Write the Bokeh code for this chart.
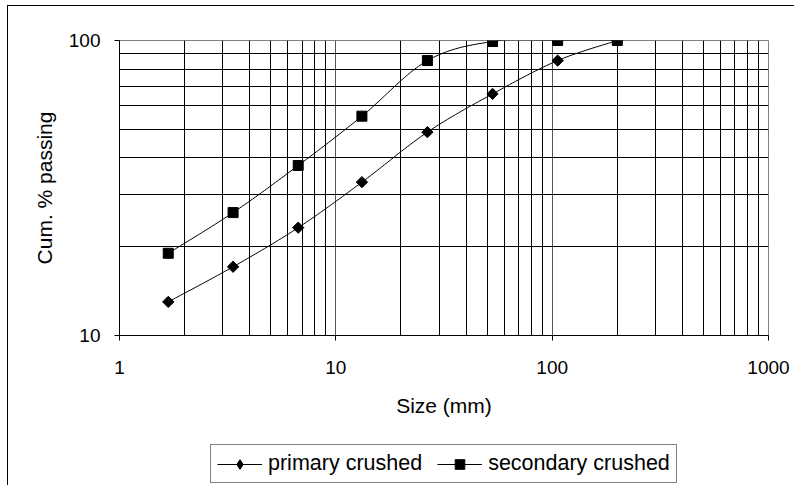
import numpy as np
from bokeh.plotting import figure
from bokeh.models import FixedTicker, Legend, LegendItem, Range1d
from bokeh.layouts import column
from bokeh.embed import file_html
from bokeh.resources import INLINE

# ---- data ----
sizes = [1.68, 3.35, 6.7, 13.2, 26.5, 53, 106, 200]
primary = [13.0, 17.1, 23.2, 33.1, 48.9, 65.9, 85.5, 100.0]
secondary = [19.0, 26.1, 37.7, 55.4, 85.5, 99.2, 100.0, 100.0]
series_names = ["primary crushed", "secondary crushed"]

x_major = [1, 10, 100, 1000]
x_minor = [2, 3, 4, 5, 6, 7, 8, 9, 20, 30, 40, 50, 60, 70, 80, 90, 200, 300, 400, 500, 600, 700, 800, 900]
y_major = [10, 100]
y_minor = [20, 30, 40, 50, 60, 70, 80, 90]


def smooth(xs, ys, n=24):
    """Excel-style smoothed line (Bezier through points, tension 1/6) in log-log space."""
    P = np.column_stack([np.log10(xs), np.log10(ys)])
    out = []
    for i in range(len(P) - 1):
        p0 = P[i - 1] if i > 0 else P[i]
        p1, p2 = P[i], P[i + 1]
        p3 = P[i + 2] if i + 2 < len(P) else P[i + 1]
        c1 = p1 + (p2 - p0) / 6.0
        c2 = p2 - (p3 - p1) / 6.0
        t = np.linspace(0, 1, n)[:, None]
        seg = (1 - t) ** 3 * p1 + 3 * (1 - t) ** 2 * t * c1 + 3 * (1 - t) * t ** 2 * c2 + t ** 3 * p2
        out.append(seg if i == 0 else seg[1:])
    pts = np.vstack(out)
    return 10 ** pts[:, 0], 10 ** pts[:, 1]


FONT = "Liberation Sans"

p = figure(width=786, height=434, x_axis_type="log", y_axis_type="log",
           x_range=(1, 1000), y_range=(10, 100),
           output_backend="svg", toolbar_location=None,
           min_border_left=111, min_border_top=34, min_border_right=26, min_border_bottom=105)

p.background_fill_color = "white"
p.border_fill_color = "white"
p.outline_line_color = "#808080"
p.outline_line_width = 1

p.xaxis.ticker = FixedTicker(ticks=x_major, minor_ticks=x_minor)
p.yaxis.ticker = FixedTicker(ticks=y_major, minor_ticks=y_minor)
p.xgrid.ticker = p.xaxis.ticker
p.ygrid.ticker = p.yaxis.ticker
for g in (p.xgrid, p.ygrid):
    g.grid_line_color = "#555555"
    g.grid_line_width = 1
    g.minor_grid_line_color = "black"
    g.minor_grid_line_width = 1

for ax in (p.xaxis, p.yaxis):
    ax.axis_line_color = "black"
    ax.major_tick_line_color = "black"
    ax.major_tick_out = 5
    ax.major_tick_in = 0
    ax.minor_tick_out = 0
    ax.minor_tick_in = 0
    ax.major_label_text_font = FONT
    ax.major_label_text_font_size = "19px"
    ax.major_label_text_color = "black"
    ax.axis_label_text_font = FONT
    ax.axis_label_text_font_size = "21px"
    ax.axis_label_text_font_style = "normal"
    ax.axis_label_text_color = "black"

p.xaxis.major_label_overrides = {1: "1", 10: "10", 100: "100", 1000: "1000"}
p.yaxis.major_label_overrides = {10: "10", 100: "100"}
p.xaxis.axis_label = "Size (mm)"
p.yaxis.axis_label = "Cum. % passing"
p.xaxis.major_label_standoff = 20
p.yaxis.major_label_standoff = 14
p.xaxis.axis_label_standoff = 17
p.yaxis.axis_label_standoff = 10

markers = [("square", 8, np.pi / 4), ("square", 10, 0.0)]
for vals, (mk, ms, ang) in zip([primary, secondary], markers):
    sx, sy = smooth(sizes, vals)
    p.line(sx, sy, line_color="black", line_width=1)
    p.scatter(sizes, vals, marker=mk, size=ms, angle=ang,
              fill_color="black", line_color="black")

# ---- legend strip (separate canvas so it is not clipped by the plot frame) ----
lg = figure(width=786, height=45, output_backend="svg", toolbar_location=None,
            x_range=Range1d(0, 1), y_range=Range1d(0, 1),
            x_axis_location=None, y_axis_location=None, min_border=0)
lg.grid.visible = False
lg.outline_line_color = None
lg.background_fill_color = "white"
lg.border_fill_color = "white"

items = []
for name, mk in zip(series_names, ["diamond", "square"]):
    lr = lg.line(x=[np.nan], y=[np.nan], line_color="black", line_width=1)
    sr = lg.scatter(x=[np.nan], y=[np.nan], marker=mk, fill_color="black", line_color="black")
    items.append(LegendItem(label=name, renderers=[lr, sr]))

legend = Legend(items=items, orientation="horizontal", location=(91, 2),
                label_text_font=FONT, label_text_font_size="21.5px", label_text_color="black",
                glyph_width=45, glyph_height=24, label_height=20, label_standoff=6,
                spacing=15, padding=6, margin=0,
                border_line_color="black", border_line_width=1,
                background_fill_color="white", background_fill_alpha=1)
lg.add_layout(legend, "center")

layout = column(p, lg, spacing=0)
layout.styles = {"border-left": "1px solid black", "border-top": "1px solid black",
                 "margin-left": "7px", "margin-top": "5px"}

open("out.html", "w").write(file_html(layout, INLINE))
